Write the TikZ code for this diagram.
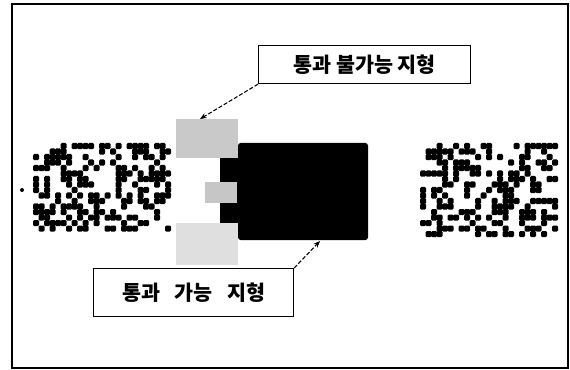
\documentclass[tikz,border=0pt]{standalone}
\usepackage{fontspec}
\newfontfamily\kr{Noto Sans CJK KR}
\usetikzlibrary{arrows.meta,calc}
\tikzset{
  lbl/.style={draw=black,line width=0.9pt,fill=white,inner sep=0pt,font=\kr\bfseries\fontsize{15.5}{17}\selectfont},
  blk/.style={draw=none,inner sep=0pt,outer sep=0pt},
  callout/.style={draw=black,line width=0.8pt,dash pattern=on 3pt off 1.5pt,-{Stealth[length=5pt,width=4pt]}},
  dot/.style={fill=black,rounded corners=1pt}
}
\begin{document}
\begin{tikzpicture}[x=0.75pt,y=-0.75pt]
\useasboundingbox (0,0) rectangle (570,370);
\fill[white] (0,0) rectangle (570,370);
\draw[line width=1.6pt] (12,4) rectangle (568,368);
% noise blocks
\pgfmathsetseed{11}
\foreach \i in {0,...,24}{\foreach \j in {0,...,15}{
  \pgfmathsetmacro{\r}{rnd}
  \ifdim\r pt<0.42pt \fill[dot] (33+\i*5.5,143+\j*5.5) rectangle ++(6.1,6.1); \fi
}}
\foreach \i in {0,...,24}{\foreach \j in {0,...,16}{
  \pgfmathsetmacro{\r}{rnd}
  \ifdim\r pt<0.42pt \fill[dot] (420+\i*5.5,143+\j*5.5) rectangle ++(6.1,6.1); \fi
}}
\node[blk,fill=black,circle,minimum size=3pt] (pt) at (22,190) {};
% central blocks
\node[blk,fill=black,rounded corners=2pt,minimum width=130*0.75pt,minimum height=97*0.75pt,anchor=north west] (wall) at (238,143) {};
\node[blk,fill=black,minimum width=19*0.75pt,minimum height=65*0.75pt,anchor=north west] (ext) at (220,158) {};
\node[blk,fill=gray!42,minimum width=62*0.75pt,minimum height=39*0.75pt,anchor=north west] (topgray) at (176,119) {};
\node[blk,fill=gray!45,minimum width=32*0.75pt,minimum height=21*0.75pt,anchor=north west] (midgray) at (205,182) {};
\node[blk,fill=gray!25,minimum width=62*0.75pt,minimum height=42*0.75pt,anchor=north west] (botgray) at (176,223) {};
% labels
\node[lbl,minimum width=212*0.75pt,minimum height=38*0.75pt,anchor=north west] (top) at (258,45) {통과 불가능 지형};
\node[lbl,minimum width=200*0.75pt,minimum height=48*0.75pt,anchor=north west] (bot) at (93,268) {통과\hspace{0.7em}가능\hspace{0.7em}지형};
\coordinate (a1) at (200,119);
\coordinate (a2) at (320,241);
\draw[callout] (top.south west) -- (a1);
\draw[callout] (bot.north east) -- (a2);
\end{tikzpicture}
\end{document}
